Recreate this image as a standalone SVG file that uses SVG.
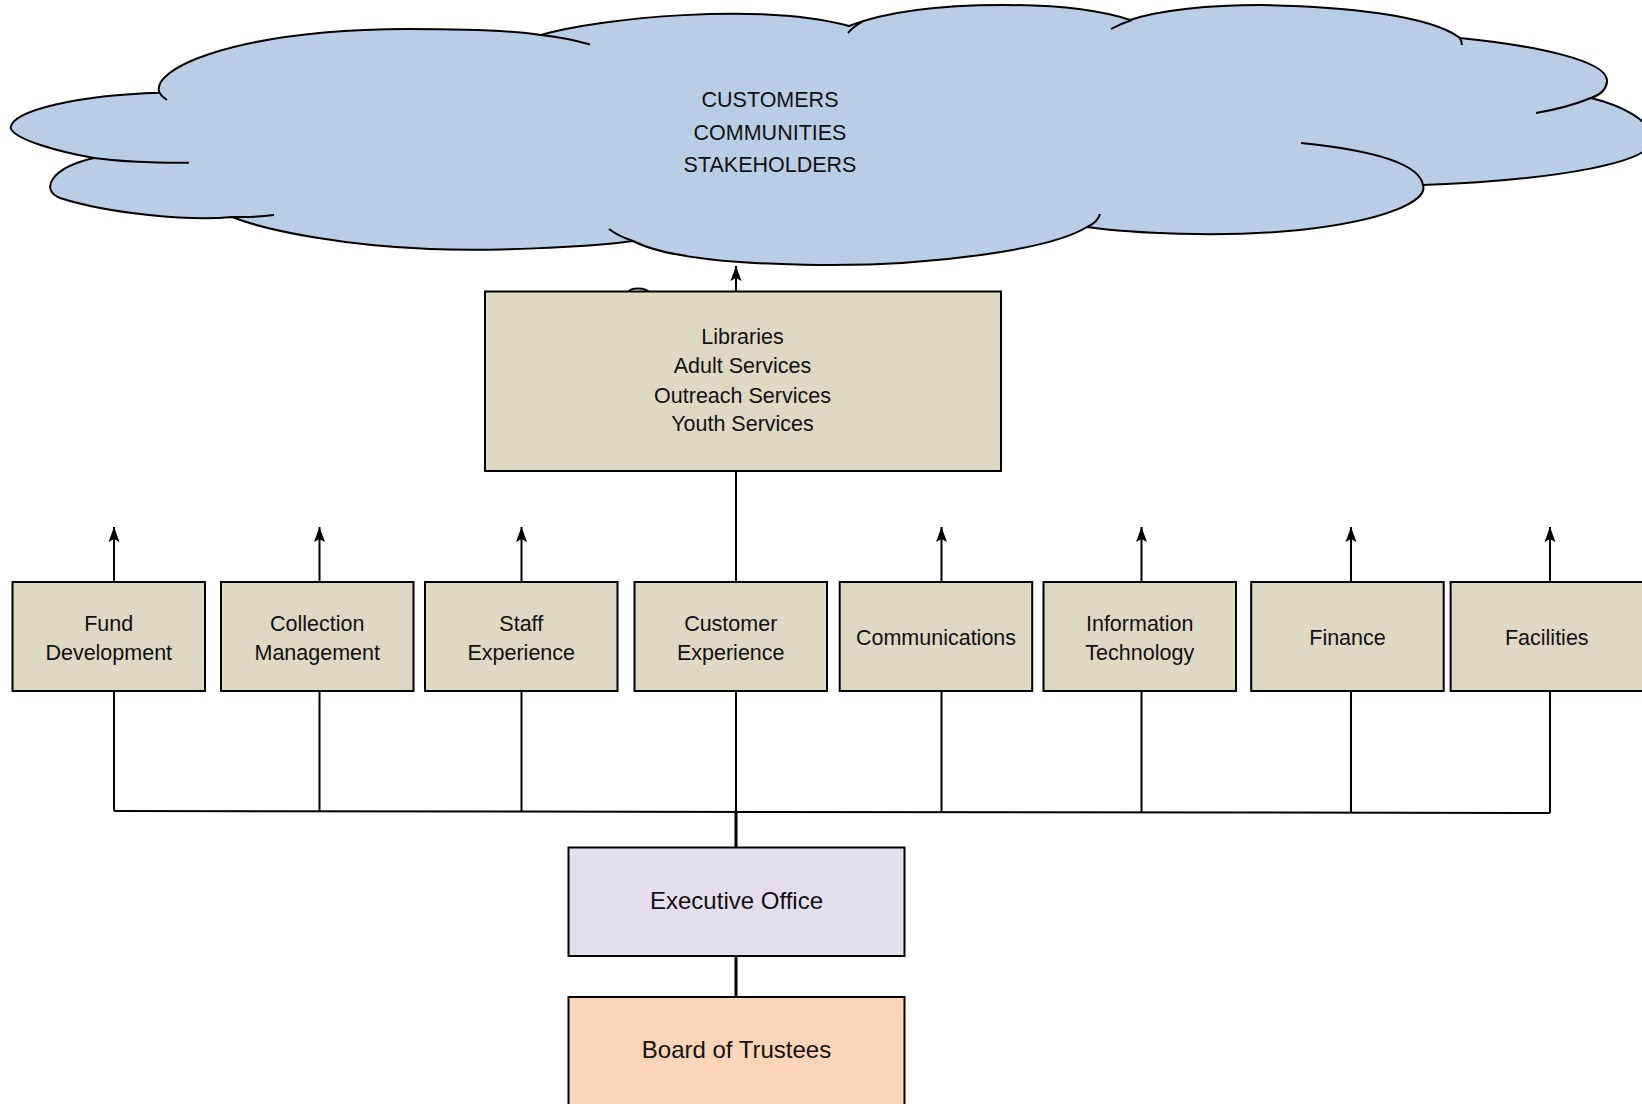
<svg xmlns="http://www.w3.org/2000/svg" width="1642" height="1104" viewBox="0 0 1642 1104">
<style>
.box{fill:#DDD9C3;stroke:#000;stroke-width:2}
.t{font-family:"Liberation Sans",Arial,sans-serif;font-size:21.5px;fill:#111;text-anchor:middle}
.tb{font-family:"Liberation Sans",Arial,sans-serif;font-size:24px;fill:#111;text-anchor:middle}
.ln{stroke:#000;stroke-width:2;fill:none}
.tail{stroke:#000;stroke-width:2;fill:none}
</style>
<defs>
<marker id="ah" markerUnits="userSpaceOnUse" markerWidth="17" markerHeight="14" viewBox="-16 -7 17 14" refX="0" refY="0" orient="auto">
<path d="M0,0 L-15,-5.5 L-12,0 L-15,5.5 Z" fill="#000"/>
</marker>
</defs>
<rect width="1642" height="1104" fill="#fff"/>

<g id="cloud">
<path d="M10.5,128 C12,110 80,95 159.5,92.7 C150,70 230,30 408,29 C470,29 515,31 541,35 C600,18 760,2 849,26 C890,10 950,5 1003,5 C1060,5 1100,10 1130,20 C1160,10 1210,5 1260,5 C1340,6 1430,15 1460,38 C1530,45 1610,60 1607,82 C1606,90 1600,95 1591,98 C1620,105 1652,120 1652,140 C1652,162 1560,180 1423,185 C1428,200 1390,220 1300,230 C1220,238 1130,233 1087,227 C1050,250 930,266 820,265 C720,264 660,255 633,241 C580,248 490,251 430,249 C350,246 270,232 232,217 C190,221 110,214 60,198 C40,190 50,168 94,158 C60,152 15,140 10.5,128 Z" fill="#B9CDE5" stroke="#000" stroke-width="2"/>
<path class="tail" d="M94,158 Q130,163 189,162.7"/>
<path class="tail" d="M159.5,92.7 Q162,97 167,100"/>
<path class="tail" d="M541,35 Q568,38 590,44.5"/>
<path class="tail" d="M862,22 Q853,27 848,33"/>
<path class="tail" d="M1132,20 Q1120,24 1111,29"/>
<path class="tail" d="M1459,37 Q1462,41 1462,45"/>
<path class="tail" d="M1591,98 Q1566,108 1536,113"/>
<path class="tail" d="M1423,185 C1420,168 1390,152 1301,143"/>
<path class="tail" d="M1087,227 Q1098,222 1100,214"/>
<path class="tail" d="M633,241 Q618,236 609,229"/>
<path class="tail" d="M232,217 Q255,217.5 274,215"/>
<text class="t" x="770" y="107">CUSTOMERS</text>
<text class="t" x="770" y="139.5">COMMUNITIES</text>
<text class="t" x="770" y="172">STAKEHOLDERS</text>
</g>

<g id="connectors">
<path class="tail" d="M628,292.5 C630,287 646,287 649,292.5"/>
<line class="ln" x1="736" y1="291.5" x2="736" y2="266" marker-end="url(#ah)"/>
<line class="ln" x1="736" y1="471" x2="736" y2="582"/>
<line class="ln" x1="114" y1="582" x2="114" y2="527" marker-end="url(#ah)"/>
<line class="ln" x1="319.5" y1="582" x2="319.5" y2="527" marker-end="url(#ah)"/>
<line class="ln" x1="521.5" y1="582" x2="521.5" y2="527" marker-end="url(#ah)"/>
<line class="ln" x1="941.5" y1="582" x2="941.5" y2="527" marker-end="url(#ah)"/>
<line class="ln" x1="1141.5" y1="582" x2="1141.5" y2="527" marker-end="url(#ah)"/>
<line class="ln" x1="1351" y1="582" x2="1351" y2="527" marker-end="url(#ah)"/>
<line class="ln" x1="1550" y1="582" x2="1550" y2="527" marker-end="url(#ah)"/>
<line class="ln" x1="114" y1="691" x2="114" y2="811"/>
<line class="ln" x1="319.5" y1="691" x2="319.5" y2="811"/>
<line class="ln" x1="521.5" y1="691" x2="521.5" y2="811.5"/>
<line class="ln" x1="941.5" y1="691" x2="941.5" y2="812"/>
<line class="ln" x1="1141.5" y1="691" x2="1141.5" y2="812.5"/>
<line class="ln" x1="1351" y1="691" x2="1351" y2="813"/>
<line class="ln" x1="1550" y1="691" x2="1550" y2="813"/>
<line class="ln" x1="114" y1="811" x2="1550" y2="813"/>
<line class="ln" x1="736" y1="691" x2="736" y2="812"/>
<line x1="736" y1="811" x2="736" y2="847.5" stroke="#000" stroke-width="3"/>
<line x1="736" y1="956" x2="736" y2="997" stroke="#000" stroke-width="3"/>
</g>

<g id="libraries">
<rect class="box" x="485" y="291.5" width="516" height="179.5"/>
<text class="t" x="742.5" y="344">Libraries</text>
<text class="t" x="742.5" y="373">Adult Services</text>
<text class="t" x="742.5" y="402.5">Outreach Services</text>
<text class="t" x="742.5" y="431">Youth Services</text>
</g>

<g id="fund-development">
<rect class="box" x="12.5" y="582" width="192.5" height="109"/>
<text class="t" x="108.75" y="631">Fund</text>
<text class="t" x="108.75" y="660">Development</text>
</g>
<g id="collection-management">
<rect class="box" x="221" y="582" width="192.5" height="109"/>
<text class="t" x="317.25" y="631">Collection</text>
<text class="t" x="317.25" y="660">Management</text>
</g>
<g id="staff-experience">
<rect class="box" x="425" y="582" width="192.5" height="109"/>
<text class="t" x="521.25" y="631">Staff</text>
<text class="t" x="521.25" y="660">Experience</text>
</g>
<g id="customer-experience">
<rect class="box" x="634.5" y="582" width="192.5" height="109"/>
<text class="t" x="730.75" y="631">Customer</text>
<text class="t" x="730.75" y="660">Experience</text>
</g>
<g id="communications">
<rect class="box" x="839.7" y="582" width="192.5" height="109"/>
<text class="t" x="936" y="644.5">Communications</text>
</g>
<g id="information-technology">
<rect class="box" x="1043.5" y="582" width="192.5" height="109"/>
<text class="t" x="1139.75" y="631">Information</text>
<text class="t" x="1139.75" y="660">Technology</text>
</g>
<g id="finance">
<rect class="box" x="1251.2" y="582" width="192.5" height="109"/>
<text class="t" x="1347.5" y="644.5">Finance</text>
</g>
<g id="facilities">
<rect class="box" x="1450.6" y="582" width="192.5" height="109"/>
<text class="t" x="1546.8" y="644.5">Facilities</text>
</g>

<g id="executive-office">
<rect x="568.5" y="847.5" width="336" height="108.5" fill="#E4DFEC" stroke="#000" stroke-width="2"/>
<text class="tb" x="736.5" y="909">Executive Office</text>
</g>
<g id="board-of-trustees">
<rect x="568.5" y="997" width="336" height="120" fill="#FBD5B5" stroke="#000" stroke-width="2"/>
<text class="tb" x="736.5" y="1058">Board of Trustees</text>
</g>
</svg>
